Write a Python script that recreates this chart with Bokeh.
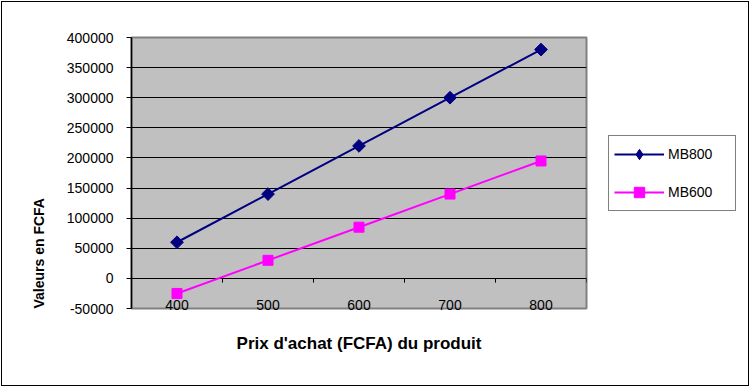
import math
from bokeh.plotting import figure
from bokeh.layouts import row
from bokeh.models import (Range1d, FixedTicker, Legend, LegendItem, Title,
                          NumeralTickFormatter)
from bokeh.embed import file_html
from bokeh.resources import INLINE

categories = ["400", "500", "600", "700", "800"]
mb800 = [60000, 140000, 220000, 300000, 380000]
mb600 = [-25000, 30000, 85000, 140000, 195000]
y_ticks = [-50000, 0, 50000, 100000, 150000, 200000, 250000, 300000, 350000, 400000]
series_names = ["MB800", "MB600"]
x_title = "Prix d'achat (FCFA) du produit"
y_title = "Valeurs en FCFA"

xs = list(range(1, len(categories) + 1))
FONT = "Liberation Sans"
NAVY = "#000080"
MAGENTA = "#FF00FF"

p = figure(width=588, height=383, output_backend="svg", toolbar_location=None,
           x_range=Range1d(0.5, len(categories) + 0.5),
           y_range=Range1d(y_ticks[0], y_ticks[-1]),
           min_border_left=129, min_border_right=4,
           min_border_top=35, min_border_bottom=77)

p.background_fill_color = "#C0C0C0"
p.border_fill_color = "white"
p.outline_line_color = "#808080"
p.outline_line_width = 2

# grid
p.xgrid.visible = False
p.ygrid.ticker = FixedTicker(ticks=y_ticks)
p.ygrid.grid_line_color = "black"
p.ygrid.grid_line_width = 1

# y axis
ya = p.yaxis[0]
ya.ticker = FixedTicker(ticks=y_ticks)
ya.formatter = NumeralTickFormatter(format="0")
ya.axis_line_color = "black"
ya.axis_line_width = 1.5
ya.major_tick_out = 5
ya.major_tick_in = 0
ya.minor_tick_line_color = None
ya.major_label_standoff = 13
ya.major_label_text_font = FONT
ya.major_label_text_font_size = "14px"
ya.major_label_text_color = "black"

# x axis (category labels)
xa = p.xaxis[0]
xa.ticker = FixedTicker(ticks=xs)
xa.major_label_overrides = {x: c for x, c in zip(xs, categories)}
xa.axis_line_color = None
xa.major_tick_line_color = None
xa.minor_tick_line_color = None
xa.major_tick_out = 0
xa.major_tick_in = 0
xa.major_label_standoff = -9
xa.major_label_text_font = FONT
xa.major_label_text_font_size = "14px"
xa.major_label_text_color = "black"
xa.axis_label = x_title
xa.axis_label_text_font = FONT
xa.axis_label_text_font_size = "17px"
xa.axis_label_text_font_style = "bold"
xa.axis_label_text_color = "black"
xa.axis_label_standoff = 21

# tick marks on the zero line between categories
bounds = [i + 0.5 for i in range(len(categories) + 1)]
p.segment(x0=bounds, y0=[0] * len(bounds), x1=bounds, y1=[-7000] * len(bounds),
          line_color="black", line_width=1)

# series
p.line(xs, mb800, line_color=NAVY, line_width=2)
p.scatter(xs, mb800, marker="square", angle=math.pi / 4, size=9,
          fill_color=NAVY, line_color=NAVY)
p.line(xs, mb600, line_color=MAGENTA, line_width=2)
p.scatter(xs, mb600, marker="square", size=10,
          fill_color=MAGENTA, line_color=MAGENTA)

# y title
p.add_layout(Title(text=y_title, align="left", standoff=34,
                   text_font=FONT, text_font_size="14px", text_font_style="bold",
                   text_color="black"), "left")

# legend panel
pl = figure(width=158, height=383, output_backend="svg", toolbar_location=None,
            x_range=Range1d(0, 1), y_range=Range1d(0, 1),
            x_axis_type=None, y_axis_type=None,
            min_border_left=0, min_border_right=0,
            min_border_top=0, min_border_bottom=0)
pl.xgrid.visible = False
pl.ygrid.visible = False
pl.outline_line_color = None
pl.background_fill_color = "white"
pl.border_fill_color = "white"

# legend-only renderers: series samples placed outside this panel's view
ll1 = pl.line(x=xs, y=mb800, line_color=NAVY, line_width=2)
ls1 = pl.scatter(x=xs, y=mb800, marker="diamond", size=15,
                 fill_color=NAVY, line_color=NAVY)
ll2 = pl.line(x=xs, y=mb600, line_color=MAGENTA, line_width=2)
ls2 = pl.scatter(x=xs, y=mb600, marker="square", size=10,
                 fill_color=MAGENTA, line_color=MAGENTA)

legend = Legend(items=[LegendItem(label=series_names[0], renderers=[ll1, ls1]),
                       LegendItem(label=series_names[1], renderers=[ll2, ls2])],
                location=(18, 97))
legend.border_line_color = "black"
legend.border_line_width = 1
legend.background_fill_color = "white"
legend.background_fill_alpha = 1
legend.label_text_font = FONT
legend.label_text_font_size = "14px"
legend.label_text_color = "black"
legend.glyph_width = 50
legend.glyph_height = 26
legend.label_height = 26
legend.label_width = 62
legend.label_standoff = 4
legend.spacing = 12
legend.padding = 5
legend.margin = 0
pl.add_layout(legend)

layout = row(p, pl, spacing=0)
layout.styles = {"border": "1px solid #000000", "margin": "1px"}

open("out.html", "w").write(file_html(layout, INLINE))
